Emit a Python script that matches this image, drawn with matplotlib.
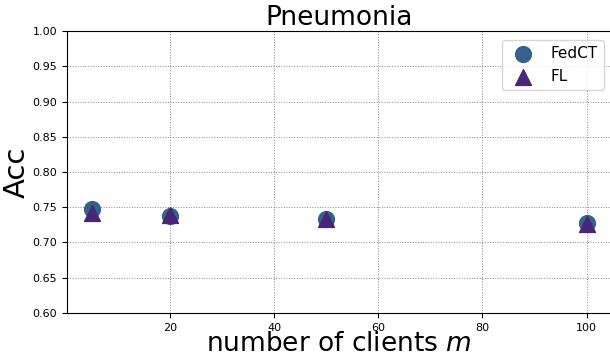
import matplotlib.pyplot as plt
import numpy as np

clients = [5, 20, 50, 100]
acc_fedct = [0.748, 0.738, 0.734, 0.727]
acc_fl = [0.742, 0.739, 0.733, 0.726]
yticks = np.arange(0.60, 1.001, 0.05)

fig = plt.figure(figsize=(6.1, 3.56), dpi=100)
ax = fig.add_axes([0.1098, 0.1208, 0.8925, 0.7921])

ax.scatter(clients, acc_fedct, s=130, marker="o", color="#33638d", label="FedCT", zorder=3)
ax.scatter(clients, acc_fl, s=130, marker="^", color="#482677", label="FL", zorder=3)

ax.set_ylim(0.60, 1.00)
ax.set_yticks(yticks)
ax.set_xticks([20, 40, 60, 80, 100])
ax.tick_params(labelsize=8)
ax.grid(True, linestyle=":", color="#888888", linewidth=0.7)
ax.set_axisbelow(True)

ax.set_title("Pneumonia", fontsize=19, pad=3)
ax.set_ylabel("Acc", fontsize=21, labelpad=1)
ax.set_xlabel("number of clients $m$", fontsize=19, labelpad=-1)
ax.legend(loc="upper right", fontsize=11, bbox_to_anchor=(1.0, 0.995))

fig.savefig("out.png", dpi=100)
